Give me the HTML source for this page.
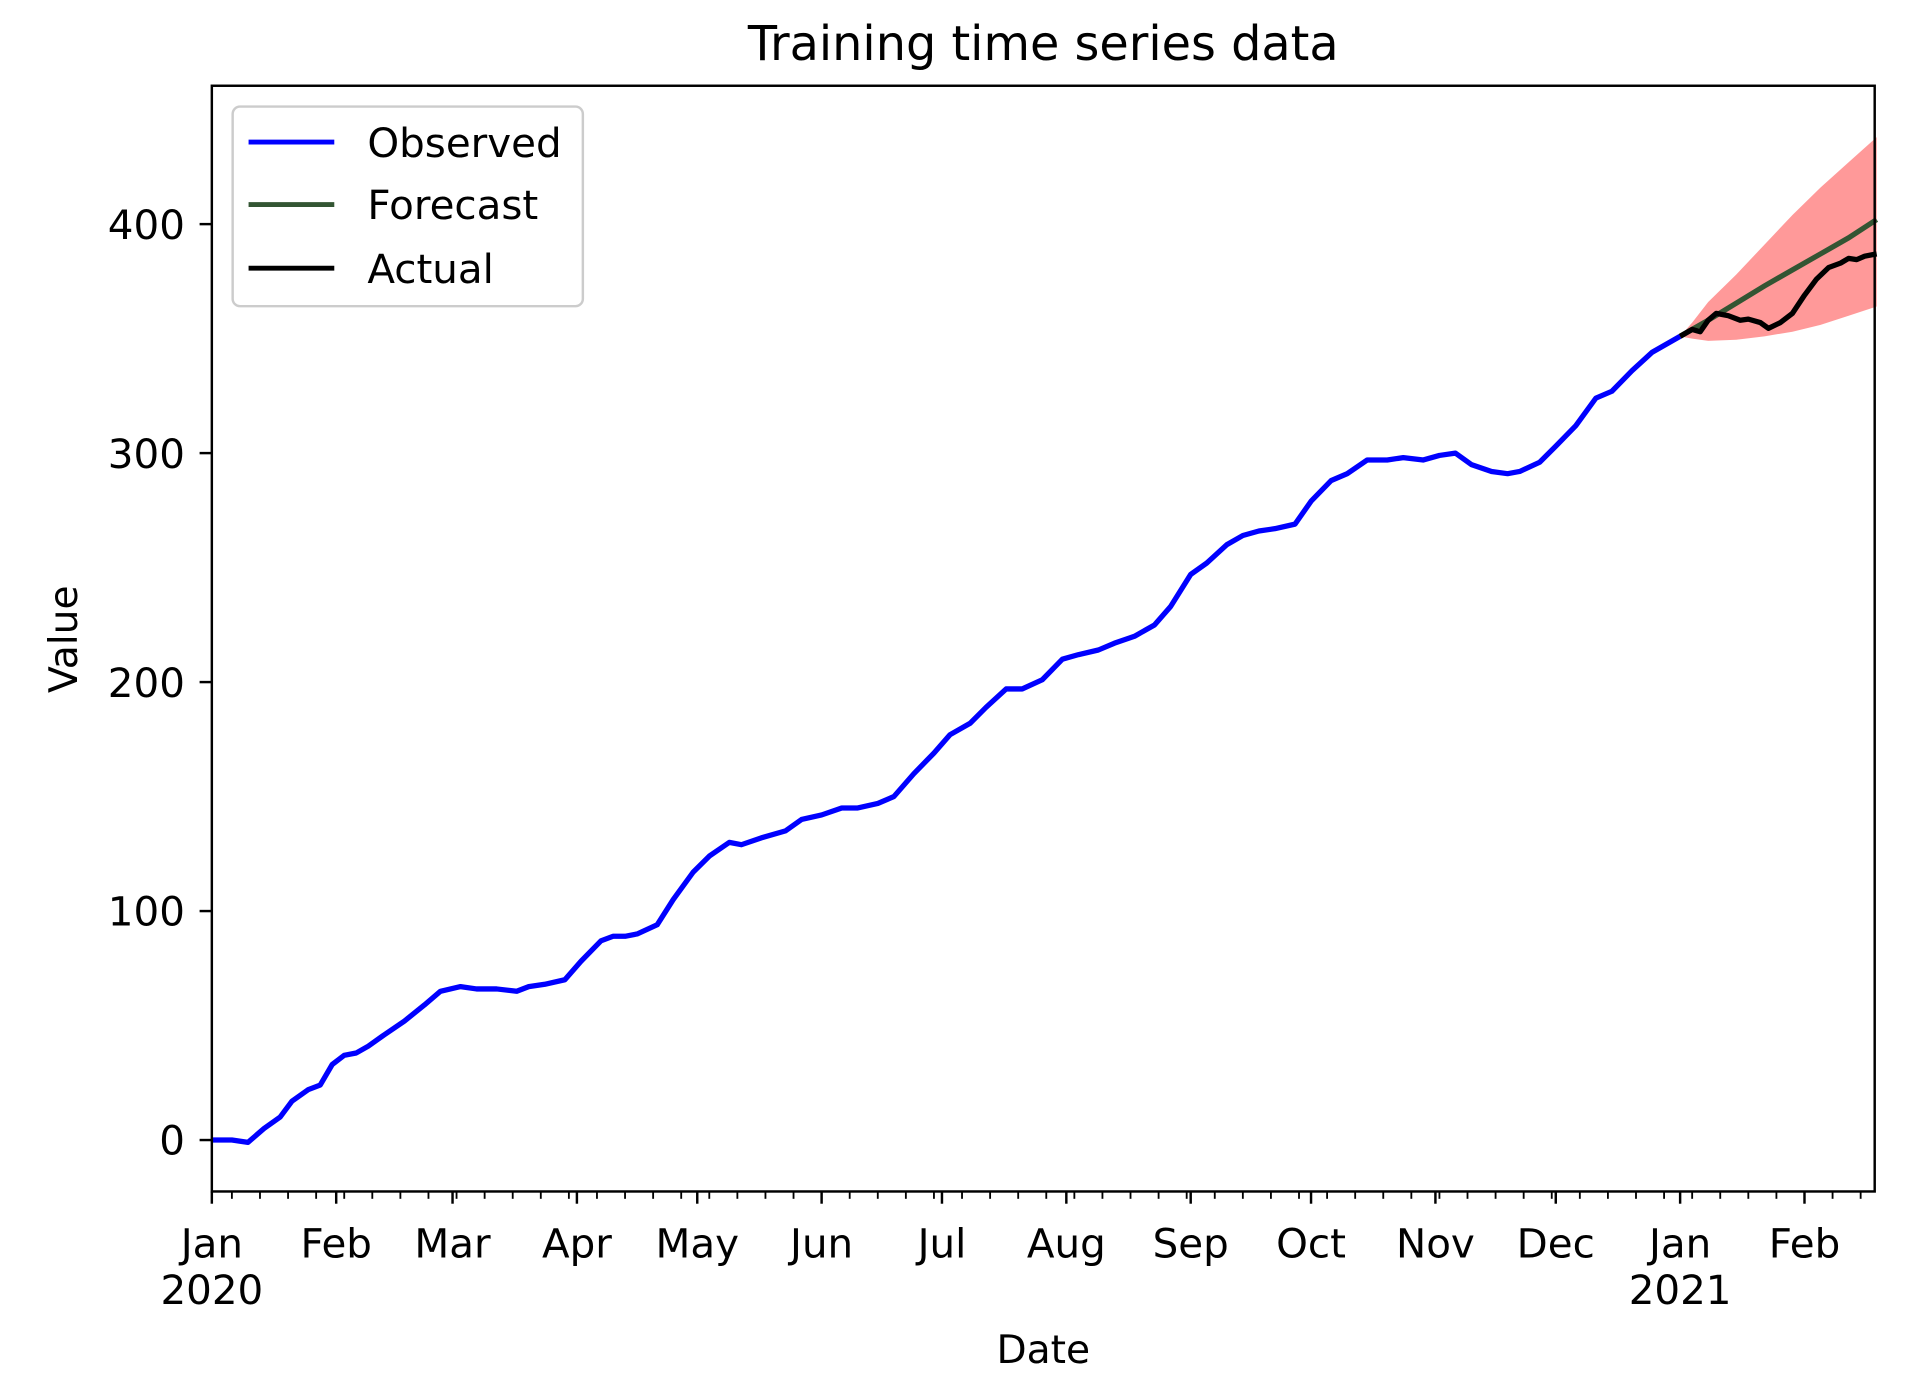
<!DOCTYPE html>
<html><head><meta charset="utf-8">
<style>
html,body{margin:0;padding:0;background:#fff;}
svg{display:block;font-family:"DejaVu Sans","Liberation Sans",sans-serif;}
</style></head>
<body>
<svg id="chart" width="1920" height="1396" viewBox="0 0 1568 1140" xmlns="http://www.w3.org/2000/svg">
<rect x="0" y="0" width="1568" height="1140" fill="#fff"/>
<g id="plot"></g>
<text x="852" y="49" font-size="39" text-anchor="middle">Training time series data</text>
<text x="852" y="1113" font-size="32" text-anchor="middle">Date</text>
<text transform="translate(63,522) rotate(-90)" font-size="32" text-anchor="middle">Value</text>
<g>
<rect x="190" y="87" width="286" height="163" rx="6" fill="#fff" fill-opacity="0.8" stroke="#cccccc" stroke-width="2"/>
<g><line x1="203" y1="116" x2="273" y2="116" stroke="#0000ff" stroke-width="4"/><text x="300" y="128" font-size="33">Observed</text></g>
<g><line x1="203" y1="167" x2="273" y2="167" stroke="#335533" stroke-width="4"/><text x="300" y="179" font-size="33">Forecast</text></g>
<g><line x1="203" y1="219" x2="273" y2="219" stroke="#000" stroke-width="4"/><text x="300" y="231" font-size="33">Actual</text></g>
</g>
</svg>
<script>
// ---- data ----
const obsDays = [0,5,9,13,17,20,24,27,30,33,36,39,43,48,53,57,62,66,71,76,79,83,88,92,97,100,103,106,111,115,120,124,129,132,137,143,147,152,157,161,166,170,175,180,184,189,193,198,202,207,212,216,221,225,230,235,239,244,248,253,257,261,265,270,274,279,283,288,293,297,302,306,310,314,319,323,326,331,335,340,345,349,354,359,366];
const obsValues = [0,0,-1,5,10,17,22,24,33,37,38,41,46,52,59,65,67,66,66,65,67,68,70,78,87,89,89,90,94,105,117,124,130,129,132,135,140,142,145,145,147,150,160,169,177,182,189,197,197,201,210,212,214,217,220,225,233,247,252,260,264,266,267,269,279,288,291,297,297,298,297,299,300,295,292,291,292,296,303,312,324,327,336,344,351];
const fcDays = [366,369,373,380,387,394,401,408,415];
const fcValues = [351,354,358,365.5,373,380,387,394,402];
const upperValues = [351,357,366,378,391,404,416,427,438];
const lowerValues = [351,350,349,349.5,351,353,356,360,364];
const actDays = [366,369,371,373,375,378,381,383,386,388,391,394,397,400,403,406,408,410,412,415];
const actValues = [351,354,353,358,361,360,358,358.5,357,354.5,357,361,369,376,381,383,385,384.5,386,387];
const yTicks = [0,100,200,300,400];
const monthLabels = ["Jan","Feb","Mar","Apr","May","Jun","Jul","Aug","Sep","Oct","Nov","Dec","Jan","Feb"];
const monthStarts = [0,31,60,91,121,152,182,213,244,274,305,335,366,397];
const yearLabels = ["2020","2021"];
const yearLabelIdx = [0,12];

// ---- axes ----
const L=173,R=1531,T=70,B=973;
const X0=0,X1=414.5;
const x = d => L + (d - X0) / (X1 - X0) * (R - L);
const y = v => 931 - v * 1.87;
const NS="http://www.w3.org/2000/svg";
const plot=document.getElementById('plot');
function mk(tag,attrs,parent){const e=document.createElementNS(NS,tag);for(const k in attrs)e.setAttribute(k,attrs[k]);(parent||plot).appendChild(e);return e;}
function pts(ds,vs){return ds.map((d,i)=>x(d).toFixed(1)+','+y(vs[i]).toFixed(1)).join(' ');}

// band
const bandPts = fcDays.map((d,i)=>x(d)+','+y(upperValues[i])).concat(fcDays.slice().reverse().map((d,i)=>x(d)+','+y(lowerValues[fcDays.length-1-i]))).join(' ');
const band=mk('polygon',{points:bandPts,fill:'#ff0000','fill-opacity':'0.4'});



const obs=mk('polyline',{points:pts(obsDays,obsValues),fill:'none',stroke:'#0000ff','stroke-width':4.3,'stroke-linejoin':'round'});


const fc=mk('polyline',{points:pts(fcDays,fcValues),fill:'none',stroke:'#335533','stroke-width':4.3});


const act=mk('polyline',{points:pts(actDays,actValues),fill:'none',stroke:'#000','stroke-width':4.3,'stroke-linejoin':'round'});



// frame
const frame=mk('rect',{x:L,y:T,width:R-L,height:B-T,fill:'none',stroke:'#000','stroke-width':2});



// y ticks
yTicks.forEach(v=>{
  const t=mk('line',{x1:L-10,x2:L,y1:y(v),y2:y(v),stroke:'#000','stroke-width':2});
  
  
  const lb=mk('text',{x:L-22,y:y(v)+12,'font-size':33,'text-anchor':'end'});
  lb.textContent=v;
  
  
});
// minor weekly ticks
for(let d=5; d<=X1; d+=7){
  const t=mk('line',{x1:x(d),x2:x(d),y1:B,y2:B+6,stroke:'#000','stroke-width':1.5});
  
  
}
// major month ticks
monthStarts.forEach((d,i)=>{
  const t=mk('line',{x1:x(d),x2:x(d),y1:B,y2:B+10,stroke:'#000','stroke-width':2});
  
  
  const lb=mk('text',{x:x(d),y:B+54,'font-size':33,'text-anchor':'middle'});
  lb.textContent=monthLabels[i];
  
  
});
yearLabelIdx.forEach((mi,i)=>{
  const lb=mk('text',{x:x(monthStarts[mi]),y:B+92,'font-size':33,'text-anchor':'middle'});
  lb.textContent=yearLabels[i];
  
  
});
</script>
</body></html>
